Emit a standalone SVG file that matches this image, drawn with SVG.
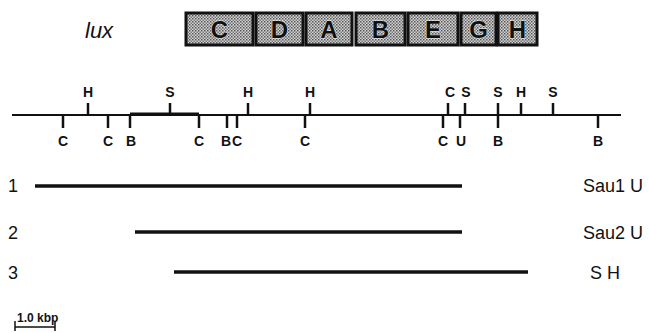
<svg xmlns="http://www.w3.org/2000/svg" width="649" height="333" viewBox="0 0 649 333">
<style>
.box{fill:url(#dots);stroke:#111;stroke-width:3}
.bl{font-family:"Liberation Sans",Arial,sans-serif;font-weight:bold;font-size:24px;fill:#111;text-anchor:middle;stroke:#eee;stroke-width:0.8;paint-order:stroke}
.rl{font-family:"Liberation Sans",Arial,sans-serif;font-weight:bold;font-size:14px;fill:#111;text-anchor:middle}
.t{font-family:"Liberation Sans",Arial,sans-serif;font-size:18px;fill:#111}
.tick{stroke:#111;stroke-width:2.5}
.frag{stroke:#111;stroke-width:3.5}
</style>
<defs>
<pattern id="dots" width="3" height="3" patternUnits="userSpaceOnUse">
<rect width="3" height="3" fill="#d4d4d4"/>
<rect width="1.5" height="1.5" fill="#555"/>
<rect x="1.5" y="1.5" width="1.5" height="1.5" fill="#777"/>
</pattern>
</defs>
<text x="85" y="38" font-family="Liberation Sans,Arial,sans-serif" font-style="italic" font-size="22" fill="#111">lux</text>
<g id="gene-C"><rect class="box" x="186" y="13" width="67" height="32"/><text class="bl" x="219.5" y="38">C</text></g>
<g id="gene-D"><rect class="box" x="256" y="13" width="47" height="32"/><text class="bl" x="279.5" y="38">D</text></g>
<g id="gene-A"><rect class="box" x="306" y="13" width="46" height="32"/><text class="bl" x="329" y="38">A</text></g>
<g id="gene-B"><rect class="box" x="356" y="13" width="49" height="32"/><text class="bl" x="380.5" y="38">B</text></g>
<g id="gene-E"><rect class="box" x="408" y="13" width="50" height="32"/><text class="bl" x="433" y="38">E</text></g>
<g id="gene-G"><rect class="box" x="461" y="13" width="35" height="32"/><text class="bl" x="478.5" y="38">G</text></g>
<g id="gene-H"><rect class="box" x="498" y="13" width="39" height="32"/><text class="bl" x="517.5" y="38">H</text></g>
<g id="map">
<line x1="12" y1="115" x2="621" y2="115" stroke="#111" stroke-width="2"/>
<line x1="130" y1="114" x2="199" y2="114" stroke="#111" stroke-width="3"/>
<g class="tick">
<line x1="63" y1="115" x2="63" y2="128"/>
<line x1="88" y1="103" x2="88" y2="115"/>
<line x1="108" y1="115" x2="108" y2="128"/>
<line x1="130" y1="115" x2="130" y2="128"/>
<line x1="170" y1="103" x2="170" y2="115"/>
<line x1="199" y1="115" x2="199" y2="128"/>
<line x1="227" y1="115" x2="227" y2="128"/>
<line x1="237" y1="115" x2="237" y2="128"/>
<line x1="248" y1="103" x2="248" y2="115"/>
<line x1="305" y1="115" x2="305" y2="128"/>
<line x1="310" y1="103" x2="310" y2="115"/>
<line x1="443" y1="115" x2="443" y2="128"/>
<line x1="448" y1="103" x2="448" y2="115"/>
<line x1="460" y1="115" x2="460" y2="128"/>
<line x1="465" y1="103" x2="465" y2="115"/>
<line x1="498" y1="103" x2="498" y2="128"/>
<line x1="521" y1="103" x2="521" y2="115"/>
<line x1="553" y1="103" x2="553" y2="115"/>
<line x1="598" y1="115" x2="598" y2="128"/>
</g>
<text class="rl" x="88" y="97">H</text>
<text class="rl" x="170" y="97">S</text>
<text class="rl" x="248" y="97">H</text>
<text class="rl" x="310" y="97">H</text>
<text class="rl" x="450" y="97">C</text>
<text class="rl" x="466" y="97">S</text>
<text class="rl" x="498" y="97">S</text>
<text class="rl" x="521" y="97">H</text>
<text class="rl" x="553" y="97">S</text>
<text class="rl" x="63" y="146">C</text>
<text class="rl" x="108" y="146">C</text>
<text class="rl" x="131" y="146">B</text>
<text class="rl" x="199" y="146">C</text>
<text class="rl" x="226" y="146">B</text>
<text class="rl" x="237" y="146">C</text>
<text class="rl" x="305" y="146">C</text>
<text class="rl" x="443" y="146">C</text>
<text class="rl" x="461" y="146">U</text>
<text class="rl" x="498" y="146">B</text>
<text class="rl" x="598" y="146">B</text>
</g>
<g id="fragment-1"><text class="t" x="8" y="192">1</text><line class="frag" x1="35" y1="186" x2="462" y2="186"/><text class="t" x="583" y="192">Sau1 U</text></g>
<g id="fragment-2"><text class="t" x="8" y="239">2</text><line class="frag" x1="135" y1="232" x2="462" y2="232"/><text class="t" x="583" y="239">Sau2 U</text></g>
<g id="fragment-3"><text class="t" x="8" y="279">3</text><line class="frag" x1="174" y1="272" x2="528" y2="272"/><text class="t" x="590" y="279">S H</text></g>
<g id="scale">
<text x="17" y="322" font-family="Liberation Sans,Arial,sans-serif" font-size="12" font-weight="bold" fill="#111">1.0 kbp</text>
<path d="M15 321 V331 M15 327 H55 M55 321 V331" stroke="#111" stroke-width="1.5" fill="none"/>
</g>
</svg>
